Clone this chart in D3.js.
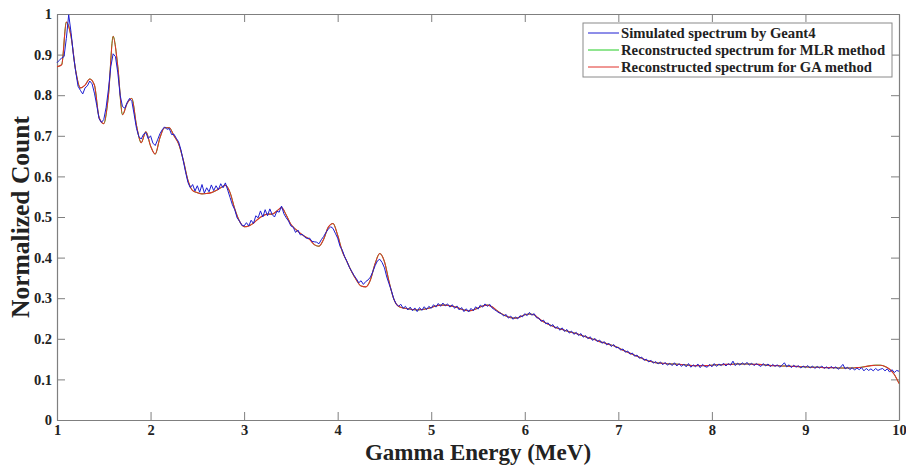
<!DOCTYPE html>
<html>
<head>
<meta charset="utf-8">
<script src="https://cdn.jsdelivr.net/npm/d3@7/dist/d3.min.js"></script>
<style>
  body { margin: 0; background: #fff; }
  svg text { font-family: "Liberation Serif", "Times New Roman", serif; font-weight: bold; fill: #222; }
</style>
</head>
<body>
<div id="chart"></div>
<script>
// energy ticks (MeV) and count ticks
var xTicks = [1, 2, 3, 4, 5, 6, 7, 8, 9, 10];
var yTicks = [0, 0.1, 0.2, 0.3, 0.4, 0.5, 0.6, 0.7, 0.8, 0.9, 1];

var seriesNames = ['Simulated spectrum by Geant4', 'Reconstructed spectrum for MLR method', 'Reconstructed spectrum for GA method'];
var seriesColors = ['#1d1dd2', '#22cc22', '#e0302a'];

// GA reconstruction, sampled every 0.05 MeV from 1 to 10
var energyGA = d3.range(181).map(function (i) { return +(1 + i * 0.05).toFixed(2); });
var countGA = [
  0.870, 0.875, 0.980, 0.945, 0.860, 0.818, 0.825, 0.840, 0.825, 0.745,
  0.730, 0.800, 0.945, 0.870, 0.752, 0.780, 0.792, 0.725, 0.683, 0.710,
  0.675, 0.655, 0.695, 0.720, 0.720, 0.700, 0.680, 0.640, 0.590, 0.565,
  0.560, 0.557, 0.558, 0.560, 0.565, 0.572, 0.578, 0.560, 0.520, 0.490,
  0.476, 0.478, 0.485, 0.495, 0.503, 0.507, 0.507, 0.515, 0.523, 0.505,
  0.482, 0.470, 0.460, 0.452, 0.445, 0.432, 0.428, 0.445, 0.475, 0.484,
  0.455, 0.415, 0.390, 0.365, 0.345, 0.330, 0.328, 0.345, 0.385, 0.410,
  0.390, 0.340, 0.298, 0.280, 0.276, 0.274, 0.272, 0.271, 0.272, 0.274,
  0.277, 0.281, 0.283, 0.283, 0.281, 0.279, 0.275, 0.271, 0.269, 0.271,
  0.276, 0.281, 0.283, 0.279, 0.270, 0.262, 0.256, 0.252, 0.251, 0.254,
  0.259, 0.261, 0.259, 0.250, 0.242, 0.236, 0.231, 0.226, 0.223, 0.219,
  0.216, 0.213, 0.209, 0.205, 0.201, 0.198, 0.193, 0.190, 0.186, 0.183,
  0.178, 0.172, 0.167, 0.162, 0.157, 0.152, 0.147, 0.144, 0.141, 0.140,
  0.139, 0.138, 0.138, 0.137, 0.136, 0.135, 0.134, 0.134, 0.134, 0.134,
  0.135, 0.136, 0.136, 0.137, 0.137, 0.138, 0.138, 0.138, 0.138, 0.137,
  0.137, 0.136, 0.135, 0.134, 0.134, 0.133, 0.133, 0.132, 0.132, 0.131,
  0.131, 0.130, 0.130, 0.130, 0.129, 0.129, 0.129, 0.128, 0.128, 0.128,
  0.128, 0.129, 0.130, 0.132, 0.134, 0.135, 0.135, 0.132, 0.125, 0.112,
  0.090
];
// MLR reconstruction lies under the GA curve everywhere in the figure
var countMLR = countGA;

// Geant4 simulated spectrum, bins of 0.025 MeV from 1 to 10
var energySim = d3.range(361).map(function (i) { return +(1 + i * 0.025).toFixed(3); });
var countSim = [
  0.880, 0.886, 0.892, 0.895, 0.940, 0.998, 0.955, 0.900, 0.858, 0.822,
  0.812, 0.803, 0.818, 0.823, 0.835, 0.828, 0.805, 0.775, 0.742, 0.733,
  0.740, 0.770, 0.815, 0.870, 0.902, 0.895, 0.855, 0.800, 0.772, 0.768,
  0.782, 0.792, 0.785, 0.752, 0.718, 0.698, 0.692, 0.704, 0.708, 0.693,
  0.700, 0.682, 0.676, 0.690, 0.705, 0.715, 0.722, 0.716, 0.718, 0.703,
  0.704, 0.694, 0.685, 0.665, 0.638, 0.610, 0.585, 0.572, 0.580, 0.564,
  0.577, 0.561, 0.580, 0.559, 0.572, 0.562, 0.579, 0.565, 0.577, 0.567,
  0.582, 0.572, 0.584, 0.566, 0.548, 0.530, 0.518, 0.498, 0.490, 0.480,
  0.478, 0.486, 0.478, 0.492, 0.484, 0.503, 0.498, 0.515, 0.500, 0.518,
  0.503, 0.520, 0.506, 0.500, 0.514, 0.512, 0.527, 0.508, 0.498, 0.490,
  0.478, 0.475, 0.462, 0.468, 0.456, 0.457, 0.450, 0.447, 0.448, 0.440,
  0.439, 0.438, 0.434, 0.444, 0.452, 0.462, 0.470, 0.476, 0.472, 0.460,
  0.448, 0.428, 0.418, 0.402, 0.390, 0.376, 0.366, 0.356, 0.348, 0.338,
  0.343, 0.334, 0.341, 0.345, 0.352, 0.365, 0.380, 0.392, 0.396, 0.388,
  0.375, 0.352, 0.335, 0.318, 0.298, 0.286, 0.280, 0.285, 0.275, 0.280,
  0.271, 0.278, 0.269, 0.276, 0.267, 0.277, 0.270, 0.279, 0.272, 0.280,
  0.275, 0.284, 0.278, 0.287, 0.280, 0.288, 0.281, 0.286, 0.278, 0.284,
  0.275, 0.281, 0.271, 0.277, 0.267, 0.274, 0.266, 0.275, 0.269, 0.279,
  0.273, 0.283, 0.278, 0.286, 0.280, 0.285, 0.276, 0.272, 0.268, 0.264,
  0.262, 0.256, 0.260, 0.251, 0.256, 0.248, 0.254, 0.249, 0.257, 0.254,
  0.262, 0.257, 0.265, 0.258, 0.262, 0.252, 0.251, 0.243, 0.246, 0.237,
  0.239, 0.231, 0.235, 0.226, 0.230, 0.221, 0.227, 0.218, 0.223, 0.214,
  0.219, 0.211, 0.216, 0.208, 0.213, 0.204, 0.208, 0.200, 0.205, 0.196,
  0.201, 0.193, 0.197, 0.189, 0.193, 0.185, 0.189, 0.181, 0.186, 0.178,
  0.179, 0.172, 0.175, 0.167, 0.170, 0.162, 0.165, 0.157, 0.160, 0.152,
  0.155, 0.147, 0.150, 0.143, 0.147, 0.140, 0.144, 0.138, 0.143, 0.136,
  0.142, 0.135, 0.140, 0.134, 0.141, 0.133, 0.139, 0.132, 0.138, 0.131,
  0.139, 0.130, 0.136, 0.131, 0.138, 0.129, 0.137, 0.132, 0.130, 0.137,
  0.131, 0.139, 0.132, 0.138, 0.134, 0.140, 0.133, 0.139, 0.135, 0.145,
  0.134, 0.140, 0.135, 0.141, 0.136, 0.142, 0.135, 0.140, 0.134, 0.139,
  0.135, 0.132, 0.139, 0.133, 0.138, 0.131, 0.137, 0.132, 0.136, 0.130,
  0.135, 0.141, 0.131, 0.136, 0.129, 0.135, 0.130, 0.134, 0.128, 0.133,
  0.129, 0.134, 0.128, 0.133, 0.127, 0.132, 0.128, 0.133, 0.127, 0.131,
  0.126, 0.132, 0.127, 0.131, 0.125, 0.130, 0.137, 0.126, 0.130, 0.124,
  0.129, 0.123, 0.128, 0.124, 0.129, 0.121, 0.127, 0.122, 0.126, 0.121,
  0.127, 0.122, 0.125, 0.127, 0.121, 0.126, 0.118, 0.124, 0.117, 0.122,
  0.120
];

var width = 906, height = 465;
var margin = { top: 14, right: 7, bottom: 45, left: 57 };
var fontFamily = '"Liberation Serif", "Times New Roman", serif';

var svg = d3.select('#chart')
  .append('svg')
  .attr('width', width)
  .attr('height', height);

var x = d3.scaleLinear().domain([1, 10]).range([margin.left, width - margin.right]);
var y = d3.scaleLinear().domain([0, 1]).range([height - margin.bottom, margin.top]);

// axes, ticks pointing inward, mirrored on top and right
function styleAxis(g) {
  g.attr('font-family', fontFamily).attr('font-weight', 'bold');
  g.selectAll('path, line').attr('stroke', '#7f7f7f');
  g.selectAll('text').attr('font-size', 14.5).attr('fill', '#222');
}

svg.append('g')
  .attr('transform', 'translate(0,' + y(0) + ')')
  .call(d3.axisBottom(x).tickValues(xTicks).tickSizeInner(-8).tickSizeOuter(0).tickPadding(5).tickFormat(d3.format('d')))
  .call(styleAxis);
svg.append('g')
  .attr('transform', 'translate(0,' + y(1) + ')')
  .call(d3.axisTop(x).tickValues(xTicks).tickSizeInner(-8).tickSizeOuter(0).tickFormat(''))
  .call(styleAxis);
svg.append('g')
  .attr('transform', 'translate(' + x(1) + ',0)')
  .call(d3.axisLeft(y).tickValues(yTicks).tickSizeInner(-8).tickSizeOuter(0).tickPadding(5).tickFormat(function (d) { return d3.format('')(d); }))
  .call(styleAxis);
svg.append('g')
  .attr('transform', 'translate(' + x(10) + ',0)')
  .call(d3.axisRight(y).tickValues(yTicks).tickSizeInner(-8).tickSizeOuter(0).tickFormat(''))
  .call(styleAxis);

svg.selectAll('.domain').attr('stroke-width', 1.2);

// curves
var line = d3.line()
  .x(function (d) { return x(d[0]); })
  .y(function (d) { return y(d[1]); });
var smooth = d3.line()
  .x(function (d) { return x(d[0]); })
  .y(function (d) { return y(d[1]); })
  .curve(d3.curveMonotoneX);

svg.append('path')
  .datum(d3.zip(energyGA, countMLR))
  .attr('fill', 'none')
  .attr('stroke', seriesColors[1])
  .attr('stroke-width', 1)
  .attr('d', smooth);
svg.append('path')
  .datum(d3.zip(energyGA, countGA))
  .attr('fill', 'none')
  .attr('stroke', seriesColors[2])
  .attr('stroke-width', 1.1)
  .attr('d', smooth);
svg.append('path')
  .datum(d3.zip(energySim, countSim))
  .attr('fill', 'none')
  .attr('stroke', seriesColors[0])
  .attr('stroke-width', 1)
  .attr('d', line);

// axis titles
svg.append('text')
  .attr('x', (x(1) + x(10)) / 2)
  .attr('y', 460)
  .attr('text-anchor', 'middle')
  .attr('font-size', 23)
  .text('Gamma Energy (MeV)');
svg.append('text')
  .attr('transform', 'translate(29,' + ((y(0) + y(1)) / 2) + ') rotate(-90)')
  .attr('text-anchor', 'middle')
  .attr('font-size', 25.5)
  .text('Normalized Count');

// legend
var legend = svg.append('g').attr('transform', 'translate(583,23)');
legend.append('rect')
  .attr('width', 309)
  .attr('height', 54)
  .attr('fill', '#fff')
  .attr('stroke', '#8a8a8a');
var rows = legend.selectAll('.row')
  .data(seriesNames)
  .enter()
  .append('g')
  .attr('class', 'row')
  .attr('transform', function (d, i) { return 'translate(0,' + (10 + i * 17) + ')'; });
rows.append('line')
  .attr('x1', 5).attr('x2', 36)
  .attr('stroke', function (d, i) { return seriesColors[i]; })
  .attr('stroke-width', 1);
rows.append('text')
  .attr('x', 38)
  .attr('dy', '0.35em')
  .attr('font-size', 14.7)
  .text(function (d) { return d; });
</script>
</body>
</html>
